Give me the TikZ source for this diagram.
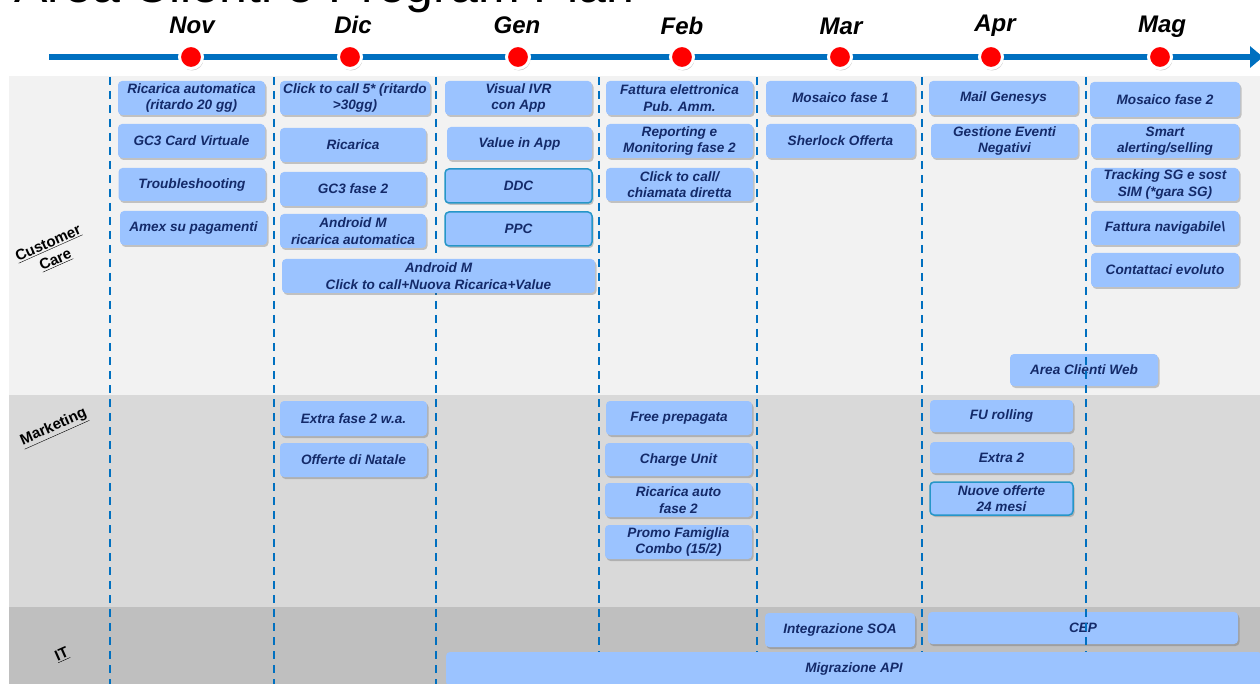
\documentclass[tikz,border=0pt]{standalone}
\usepackage{fontspec}
\setmainfont{Liberation Sans}
\usetikzlibrary{arrows.meta,shadows}

\definecolor{fondo_cc}{RGB}{242,242,242}
\definecolor{fondo_mkt}{RGB}{217,217,217}
\definecolor{fondo_it}{RGB}{191,191,191}
\definecolor{box_blu}{RGB}{155,195,255}
\definecolor{testo_blu}{RGB}{20,42,105}
\definecolor{bordo_att}{RGB}{38,150,200}
\definecolor{linea_blu}{RGB}{0,112,192}
\definecolor{punto_rosso}{RGB}{255,0,0}

\begin{document}
\begin{tikzpicture}[x=1pt,y=-1pt]
        \tikzset{
            att/.style={
                fill=box_blu,
                rounded corners=4pt,
                drop shadow={shadow xshift=1.5pt, shadow yshift=-2pt, fill=black!60, opacity=0.35},
                text=testo_blu,
                font=\bfseries\itshape\fontsize{13.6}{16.5}\selectfont,
                align=center,
                inner sep=0pt,
                minimum width=147pt,
                minimum height=34pt
            },
            attb/.style={
                att,
                draw=bordo_att,
                line width=1.5pt
            },
            mese/.style={
                circle,
                fill=punto_rosso,
                draw=white,
                line width=3pt,
                minimum size=23pt,
                inner sep=0pt,
                drop shadow={shadow xshift=1pt, shadow yshift=-2pt, fill=black!60, opacity=0.35}
            },
            mesetxt/.style={
                font=\bfseries\itshape\fontsize{24}{24}\selectfont
            },
            area/.style={
                font=\bfseries\fontsize{15}{18}\selectfont,
                align=center,
                rotate=24
            },
            tratt/.style={
                linea_blu,
                line width=2pt,
                dash pattern=on 8pt off 6pt
            }
        }
        \useasboundingbox (0,0) rectangle (1260,684);

        %fasce
        \fill[fondo_cc] (9,76) rectangle (1260,395);
        \fill[fondo_mkt] (9,395) rectangle (1260,607);
        \fill[fondo_it] (9,607) rectangle (1260,684);

        %titolo (tagliato)
        \node[anchor=base west, inner sep=0pt, font=\fontsize{50}{50}\selectfont] (titolo) at (14,2.5) {Area Clienti e Program Plan};

        %linea del tempo
        \coordinate (tInizio) at (49,57);
        \coordinate (tFine) at (1263,57);
        \draw[linea_blu, line width=6pt, -{Triangle[length=13pt, width=21pt]}] (tInizio) -- (tFine);

        \node[mese] (pNov) at (191,57) {};
        \node[mese] (pDic) at (350,57) {};
        \node[mese] (pGen) at (518,57) {};
        \node[mese] (pFeb) at (682,57) {};
        \node[mese] (pMar) at (840,57) {};
        \node[mese] (pApr) at (991,57) {};
        \node[mese] (pMag) at (1160,57) {};

        \node[mesetxt] (mNov) at (192,25) {Nov};
        \node[mesetxt] (mDic) at (353,25) {Dic};
        \node[mesetxt] (mGen) at (517,25) {Gen};
        \node[mesetxt] (mFeb) at (682,26) {Feb};
        \node[mesetxt] (mMar) at (841,26) {Mar};
        \node[mesetxt] (mApr) at (995,26) {Apr};
        \node[mesetxt] (mMag) at (1162,27) {Mag};

        %sotto le linee
        \node[att, minimum width=148pt, minimum height=32pt] (areaWeb) at (1084,370) {Area Clienti Web};
        \node[att, minimum width=310pt, minimum height=32pt] (cep) at (1083,628) {CEP};

        %linee tratteggiate
        \foreach \xx in {110,274,436,599,757,922,1086}
            \draw[tratt] (\xx,77) -- (\xx,684);

        %Customer Care
        %Nov
        \node[att] (ricAuto) at (191.5,98) {Ricarica automatica\\(ritardo 20 gg)};
        \node[att] (gc3Card) at (191.5,141) {GC3 Card Virtuale};
        \node[att, minimum height=33pt] (trouble) at (192,184.5) {Troubleshooting};
        \node[att] (amex) at (193.5,228) {Amex su pagamenti};

        %Dic
        \node[att, minimum width=150pt] (click5) at (355,98) {Click to call 5* (ritardo\\>30gg)};
        \node[att, minimum width=146pt] (ricarica) at (353,145) {Ricarica};
        \node[att, minimum width=146pt] (gc3Fase) at (353,189) {GC3 fase 2};
        \node[att, minimum width=146pt] (andrRic) at (353,231) {Android M\\ricarica automatica};
        \node[att, minimum width=313pt] (andrClick) at (438.5,276) {Android M\\Click to call+Nuova Ricarica+Value};

        %Gen
        \node[att] (visualIvr) at (518.5,98) {Visual IVR\\con App};
        \node[att, minimum width=145pt, minimum height=33pt] (valueApp) at (519.5,143.5) {Value in App};
        \node[attb] (ddc) at (518.5,186) {DDC};
        \node[attb] (ppc) at (518.5,229) {PPC};

        %Feb
        \node[att] (fattEl) at (679.5,98) {Fattura elettronica\\Pub. Amm.};
        \node[att] (reporting) at (679.5,141) {Reporting e\\Monitoring fase 2};
        \node[att, minimum height=33pt] (clickDir) at (679.5,184.5) {Click to call/\\chiamata diretta};

        %Mar
        \node[att, minimum width=149pt] (mosaico1) at (840.5,98) {Mosaico fase 1};
        \node[att, minimum width=149pt] (sherlock) at (840.5,141) {Sherlock Offerta};

        %Apr
        \node[att, minimum width=149pt] (mailGen) at (1003.5,98) {Mail Genesys};
        \node[att] (gestEventi) at (1004.5,141) {Gestione Eventi\\Negativi};

        %Mag
        \node[att, minimum width=150pt, minimum height=35pt] (mosaico2) at (1165,99.5) {Mosaico fase 2};
        \node[att, minimum width=148pt] (smart) at (1165,141) {Smart\\alerting/selling};
        \node[att, minimum width=148pt, minimum height=33pt] (tracking) at (1165,184.5) {Tracking SG e sost\\SIM (*gara SG)};
        \node[att, minimum width=148pt] (fattNav) at (1165,228) {Fattura navigabile\textbackslash};
        \node[att, minimum width=148pt] (contattaci) at (1165,270) {Contattaci evoluto};

        %Marketing
        \node[att, minimum height=35pt] (extraFase) at (353.5,418.5) {Extra fase 2 w.a.};
        \node[att] (offNatale) at (353.5,460) {Offerte di Natale};
        \node[att, minimum width=146pt] (freePrep) at (679,418) {Free prepagata};
        \node[att, minimum height=33pt] (chargeUnit) at (678.5,459.5) {Charge Unit};
        \node[att] (ricFase) at (678.5,500) {Ricarica auto\\fase 2};
        \node[att] (promo) at (678.5,542) {Promo Famiglia\\Combo (15/2)};
        \node[att, minimum width=143pt, minimum height=32pt] (fuRolling) at (1001.5,416) {FU rolling};
        \node[att, minimum width=143pt, minimum height=31pt] (extra2) at (1001.5,457.5) {Extra 2};
        \node[attb, minimum width=143pt, minimum height=33pt] (nuoveOff) at (1001.5,498.5) {Nuove offerte\\24 mesi};

        %IT
        \node[att, minimum width=150pt] (intSoa) at (840,630) {Integrazione SOA};
        \node[att, minimum width=816pt] (migrApi) at (854,669) {Migrazione API};

        %aree
        \node[area] (lblCC) at (52,252) {\underline{Customer}\\\underline{Care}};
        \node[area] (lblMkt) at (54,428) {\underline{Marketing}};
        \node[area] (lblIt) at (62,655) {\underline{IT}};

\end{tikzpicture}
\end{document}
